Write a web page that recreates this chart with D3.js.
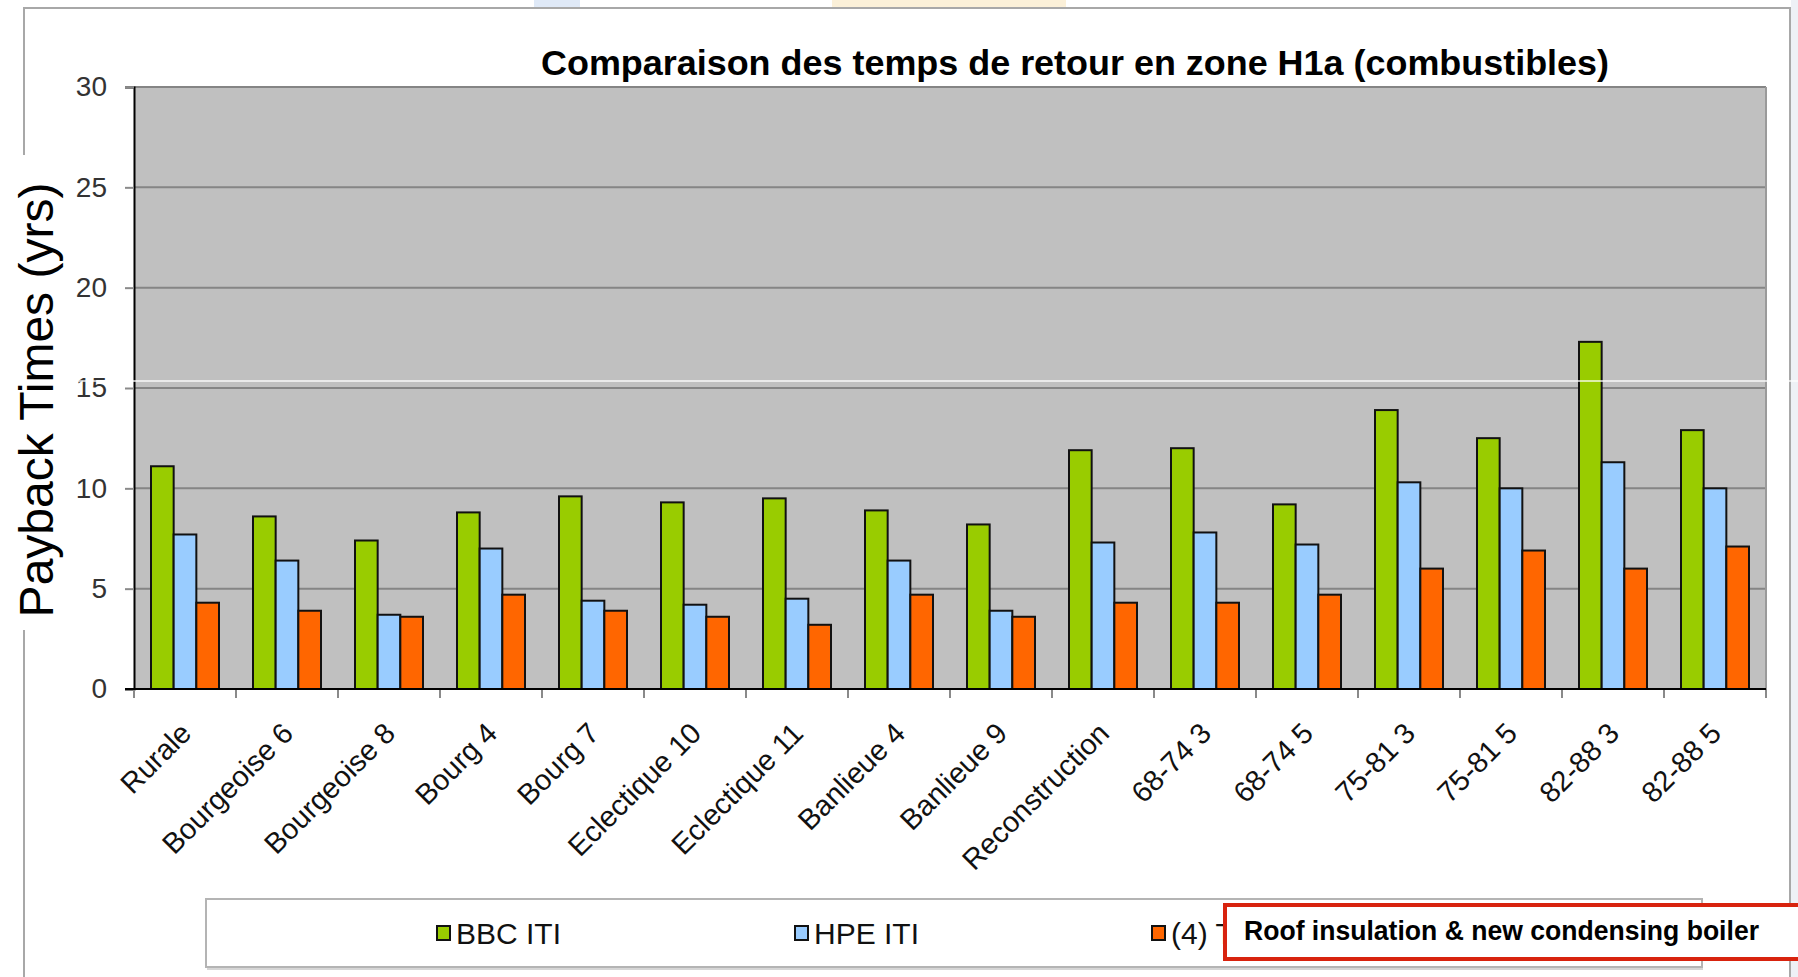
<!DOCTYPE html>
<html>
<head>
<meta charset="utf-8">
<script src="https://cdn.jsdelivr.net/npm/d3@7"></script>
<style>
  body { margin: 0; background: #fff; }
  svg text { font-family: Arial, "Liberation Sans", sans-serif; }
</style>
</head>
<body>
<div id="chart"></div>
<script>
// data
const categories = ["Rurale", "Bourgeoise 6", "Bourgeoise 8", "Bourg 4", "Bourg 7",
  "Eclectique 10", "Eclectique 11", "Banlieue 4", "Banlieue 9", "Reconstruction",
  "68-74 3", "68-74 5", "75-81 3", "75-81 5", "82-88 3", "82-88 5"];
const seriesNames = ["BBC ITI", "HPE ITI", "(4) T"];
const bbcIti = [11.1, 8.6, 7.4, 8.8, 9.6, 9.3, 9.5, 8.9, 8.2, 11.9, 12.0, 9.2, 13.9, 12.5, 17.3, 12.9];
const hpeIti = [7.7, 6.4, 3.7, 7.0, 4.4, 4.2, 4.5, 6.4, 3.9, 7.3, 7.8, 7.2, 10.3, 10.0, 11.3, 10.0];
const roofBoiler = [4.3, 3.9, 3.6, 4.7, 3.9, 3.6, 3.2, 4.7, 3.6, 4.3, 4.3, 4.7, 6.0, 6.9, 6.0, 7.1];
const yTicks = [0, 5, 10, 15, 20, 25, 30];
const title = "Comparaison des temps de retour en zone H1a (combustibles)";
const yLabel = "Payback Times (yrs)";
const note = "Roof insulation & new condensing boiler";

const colors = ["#99cc00", "#99ccff", "#ff6600"];
const allSeries = [bbcIti, hpeIti, roofBoiler];

var width = 1798, height = 977;
var plot = { left: 134, right: 1766, top: 87, bottom: 689 };

var svg = d3.select("#chart").append("svg")
  .attr("width", width)
  .attr("height", height);

// faint bits of the slide behind
svg.append("rect").attr("x", 534).attr("y", 0).attr("width", 46).attr("height", 8)
  .attr("fill", "#dfe9f7");
svg.append("rect").attr("x", 832).attr("y", 0).attr("width", 234).attr("height", 8)
  .attr("fill", "#fbf0d8");
svg.append("rect").attr("x", 1791).attr("y", 0).attr("width", 7).attr("height", height)
  .attr("fill", "#eef1f6");

// outer frame
svg.append("path")
  .attr("d", "M24,977 L24,8 L1790,8 L1790,977")
  .attr("fill", "none").attr("stroke", "#a8a8a8").attr("stroke-width", 2);

var x0 = d3.scaleBand().domain(categories).range([plot.left, plot.right]).padding(0);
var x1 = d3.scaleBand().domain(seriesNames).range([0, x0.bandwidth()])
  .paddingInner(0).paddingOuter(0.75);
var y = d3.scaleLinear().domain([0, 30]).range([plot.bottom, plot.top]);

// plot background
svg.append("rect")
  .attr("x", plot.left).attr("y", plot.top)
  .attr("width", plot.right - plot.left).attr("height", plot.bottom - plot.top)
  .attr("fill", "#c0c0c0");

// gridlines
svg.append("g").selectAll("line").data(yTicks.slice(1)).enter().append("line")
  .attr("x1", plot.left).attr("x2", plot.right)
  .attr("y1", d => y(d)).attr("y2", d => y(d))
  .attr("stroke", "#858585").attr("stroke-width", 2);
svg.append("line")
  .attr("x1", plot.right).attr("x2", plot.right)
  .attr("y1", plot.top).attr("y2", plot.bottom)
  .attr("stroke", "#9a9a9a").attr("stroke-width", 2);

// y axis
var yAxis = svg.append("g")
  .attr("transform", "translate(" + plot.left + ",0)")
  .call(d3.axisLeft(y).tickValues(yTicks).tickSize(9).tickPadding(18));
yAxis.select(".domain").attr("stroke", "#000").attr("stroke-width", 2);
yAxis.selectAll(".tick line").attr("stroke", "#8a8a8a").attr("stroke-width", 2);
yAxis.selectAll(".tick text")
  .attr("font-size", 28).attr("fill", "#333")
  .style("font-family", "Arial, 'Liberation Sans', sans-serif");

// bars
var groups = svg.append("g").selectAll("g").data(categories).enter().append("g")
  .attr("transform", d => "translate(" + x0(d) + ",0)");
groups.selectAll("rect")
  .data((d, i) => allSeries.map((s, k) => ({ key: seriesNames[k], value: s[i], k: k })))
  .enter().append("rect")
  .attr("x", d => x1(d.key))
  .attr("y", d => y(d.value))
  .attr("width", x1.bandwidth())
  .attr("height", d => y(0) - y(d.value))
  .attr("fill", d => colors[d.k])
  .attr("stroke", "#111")
  .attr("stroke-width", 2);

// x axis
var xTicks = categories.map(c => x0(c)).concat([plot.right]);
svg.append("g").selectAll("line").data(xTicks).enter().append("line")
  .attr("x1", d => d).attr("x2", d => d)
  .attr("y1", plot.bottom).attr("y2", plot.bottom + 9)
  .attr("stroke", "#8a8a8a").attr("stroke-width", 2);
svg.append("line")
  .attr("x1", plot.left - 9).attr("x2", plot.right)
  .attr("y1", plot.bottom).attr("y2", plot.bottom)
  .attr("stroke", "#000").attr("stroke-width", 2);

svg.append("g").selectAll("text").data(categories).enter().append("text")
  .attr("transform", d => "translate(" + (x0(d) + x0.bandwidth() / 2 + 8) + "," + 735 + ") rotate(-45)")
  .attr("text-anchor", "end")
  .attr("font-size", 29)
  .attr("fill", "#111")
  .text(d => d);

// stray white scan line across the slide
svg.append("line")
  .attr("x1", 20).attr("x2", width).attr("y1", 381).attr("y2", 381)
  .attr("stroke", "#fff").attr("stroke-width", 1.5).attr("opacity", 0.9);

// y axis title with white backing over the frame
svg.append("rect").attr("x", 8).attr("y", 155).attr("width", 58).attr("height", 475)
  .attr("fill", "#fff");
svg.append("text")
  .attr("transform", "translate(53,400) rotate(-90)")
  .attr("text-anchor", "middle")
  .attr("font-size", 48)
  .attr("fill", "#000")
  .text(yLabel);

// title
svg.append("text")
  .attr("x", 1075).attr("y", 75)
  .attr("text-anchor", "middle")
  .attr("font-size", 35)
  .attr("font-weight", "bold")
  .attr("textLength", 1068)
  .attr("lengthAdjust", "spacingAndGlyphs")
  .attr("fill", "#000")
  .text(title);

// legend
svg.append("rect")
  .attr("x", 206).attr("y", 899).attr("width", 1496).attr("height", 68)
  .attr("fill", "#fff").attr("stroke", "#b4b4b4").attr("stroke-width", 2);
svg.append("line")
  .attr("x1", 207).attr("x2", 1703).attr("y1", 969).attr("y2", 969)
  .attr("stroke", "#d6d6d6").attr("stroke-width", 2);
var legendX = [437, 795, 1152];
var leg = svg.append("g").selectAll("g").data(seriesNames).enter().append("g")
  .attr("transform", (d, i) => "translate(" + legendX[i] + ",926)");
leg.append("rect")
  .attr("width", 13).attr("height", 14)
  .attr("fill", (d, i) => colors[i])
  .attr("stroke", "#111").attr("stroke-width", 2);
leg.append("text")
  .attr("x", 19).attr("y", 18)
  .attr("font-size", 30)
  .attr("fill", "#111")
  .text(d => d);

// red note box over the last legend entry
svg.append("rect")
  .attr("x", 1225).attr("y", 905).attr("width", 600).attr("height", 54)
  .attr("fill", "#fff").attr("stroke", "#d8230e").attr("stroke-width", 4);
svg.append("text")
  .attr("x", 1244).attr("y", 940)
  .attr("font-size", 27)
  .attr("font-weight", "bold")
  .attr("textLength", 515)
  .attr("lengthAdjust", "spacingAndGlyphs")
  .attr("fill", "#000")
  .text(note);
</script>
</body>
</html>
